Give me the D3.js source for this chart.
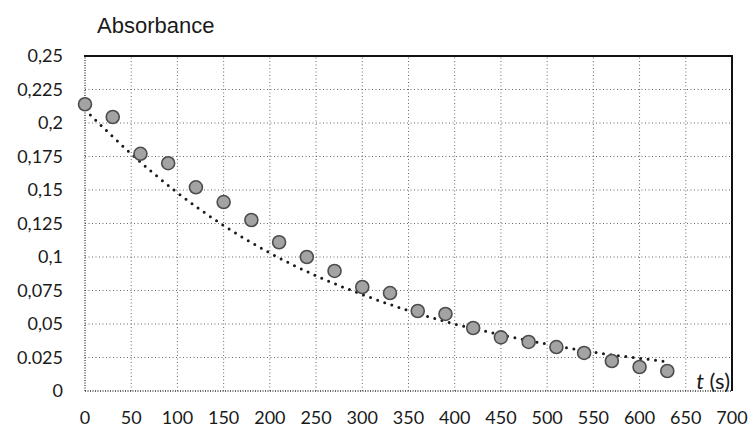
<!DOCTYPE html>
<html>
<head>
<meta charset="utf-8">
<script src="https://cdn.jsdelivr.net/npm/d3@7"></script>
<style>
  html, body { margin: 0; padding: 0; background: #fff; }
  svg { display: block; }
</style>
</head>
<body>
<svg id="chart" width="750" height="428"></svg>
<script>
// measured points : time (s) / absorbance
var times = [0, 30, 60, 90, 120, 150, 180, 210, 240, 270, 300, 330, 360, 390, 420, 450, 480, 510, 540, 570, 600, 630];
var absorbance = [0.214, 0.2045, 0.177, 0.170, 0.152, 0.141, 0.1276, 0.111, 0.100, 0.0896, 0.0776, 0.0731,
                  0.0597, 0.0575, 0.047, 0.040, 0.0366, 0.0328, 0.0284, 0.0224, 0.0179, 0.0149];

// dotted trend curve
var trendTimes = [0, 50, 100, 150, 200, 250, 300, 350, 400, 450, 500, 550, 600, 630];
var trendValues = [0.21, 0.177, 0.148, 0.1235, 0.103, 0.086, 0.072, 0.060, 0.050, 0.042, 0.035, 0.029, 0.0244, 0.0219];

// axis ticks
var xTicks = [0, 50, 100, 150, 200, 250, 300, 350, 400, 450, 500, 550, 600, 650, 700];
var yTicks = [0, 0.025, 0.05, 0.075, 0.1, 0.125, 0.15, 0.175, 0.2, 0.225, 0.25];
var yTickLabels = ["0", "0.025", "0,05", "0,075", "0,1", "0,125", "0,15", "0,175", "0,2", "0,225", "0,25"];

const margin = {left: 85, right: 18, top: 56, bottom: 37};
const W = 750, H = 428;
const labelFont = "Lato, 'Open Sans', sans-serif";

const svg = d3.select('#chart');

const x = d3.scaleLinear().domain([0, 700]).range([margin.left, W - margin.right]);
const y = d3.scaleLinear().domain([0, 0.25]).range([H - margin.bottom, margin.top]);

// gridlines (dotted, like the scanned print)
const grid = svg.append('g').classed('grid', true);
grid.selectAll('line.vgrid')
  .data(xTicks.filter(d => d > 0 && d < 700))
  .enter().append('line')
  .attr('x1', d => x(d)).attr('x2', d => x(d))
  .attr('y1', y(0)).attr('y2', y(0.25))
  .attr('stroke', '#444')
  .attr('stroke-width', 1)
  .attr('stroke-dasharray', '1,2.5')
  .attr('opacity', 0.8);
grid.selectAll('line.hgrid')
  .data(yTicks.filter(d => d > 0 && d < 0.25))
  .enter().append('line')
  .attr('x1', x(0)).attr('x2', x(700))
  .attr('y1', d => y(d)).attr('y2', d => y(d))
  .attr('stroke', '#444')
  .attr('stroke-width', 1)
  .attr('stroke-dasharray', '1,2.5')
  .attr('opacity', 0.8);

// frame: left + bottom dotted, top + right solid
grid.append('line')
  .attr('x1', x(0)).attr('x2', x(0)).attr('y1', y(0)).attr('y2', y(0.25))
  .attr('stroke', '#333').attr('stroke-width', 1.3).attr('stroke-dasharray', '1,1.5');
grid.append('line')
  .attr('x1', x(0)).attr('x2', x(700)).attr('y1', y(0)).attr('y2', y(0))
  .attr('stroke', '#333').attr('stroke-width', 1.3).attr('stroke-dasharray', '1,1.5');
grid.append('line')
  .attr('x1', x(0) - 1).attr('x2', x(700) + 1).attr('y1', y(0.25)).attr('y2', y(0.25))
  .attr('stroke', '#111').attr('stroke-width', 2.2);
grid.append('line')
  .attr('x1', x(700)).attr('x2', x(700)).attr('y1', y(0.25)).attr('y2', y(0))
  .attr('stroke', '#111').attr('stroke-width', 2);

// y axis labels
svg.append('g').classed('y-labels', true)
  .selectAll('text')
  .data(yTicks)
  .enter().append('text')
  .attr('x', 63)
  .attr('y', d => y(d))
  .attr('dy', '0.36em')
  .attr('text-anchor', 'end')
  .style('font-family', labelFont)
  .style('font-size', '18px')
  .attr('fill', '#1a1a1a')
  .text((d, i) => yTickLabels[i]);

// x axis labels
svg.append('g').classed('x-labels', true)
  .selectAll('text')
  .data(xTicks)
  .enter().append('text')
  .attr('x', d => x(d))
  .attr('y', 424)
  .attr('text-anchor', 'middle')
  .style('font-family', labelFont)
  .style('font-size', '18px')
  .attr('fill', '#1a1a1a')
  .text(d => d);

// titles
svg.append('text')
  .attr('x', 97)
  .attr('y', 33)
  .style('font-family', "'Liberation Sans', Arial, sans-serif")
  .style('font-size', '22px')
  .attr('fill', '#1a1a1a')
  .text('Absorbance');

const tLabel = svg.append('text')
  .attr('x', 730)
  .attr('y', 389)
  .attr('text-anchor', 'end')
  .style('font-family', labelFont)
  .style('font-size', '22px')
  .attr('fill', '#1a1a1a');
tLabel.append('tspan').style('font-style', 'italic').text('t');
tLabel.append('tspan').text(' (s)');

// trend curve
const trendLine = d3.line()
  .x((d, i) => x(trendTimes[i]))
  .y(d => y(d))
  .curve(d3.curveMonotoneX);
svg.append('path')
  .datum(trendValues)
  .attr('d', trendLine)
  .attr('fill', 'none')
  .attr('stroke', '#1a1a1a')
  .attr('stroke-width', 3)
  .attr('stroke-linecap', 'round')
  .attr('stroke-dasharray', '0,7.5');

// measured points
svg.append('g').classed('points', true)
  .selectAll('circle')
  .data(absorbance)
  .enter().append('circle')
  .attr('cx', (d, i) => x(times[i]))
  .attr('cy', d => y(d))
  .attr('r', 6.5)
  .attr('fill', '#a3a3a3')
  .attr('stroke', '#4d4d4d')
  .attr('stroke-width', 1.6);
</script>
</body>
</html>
